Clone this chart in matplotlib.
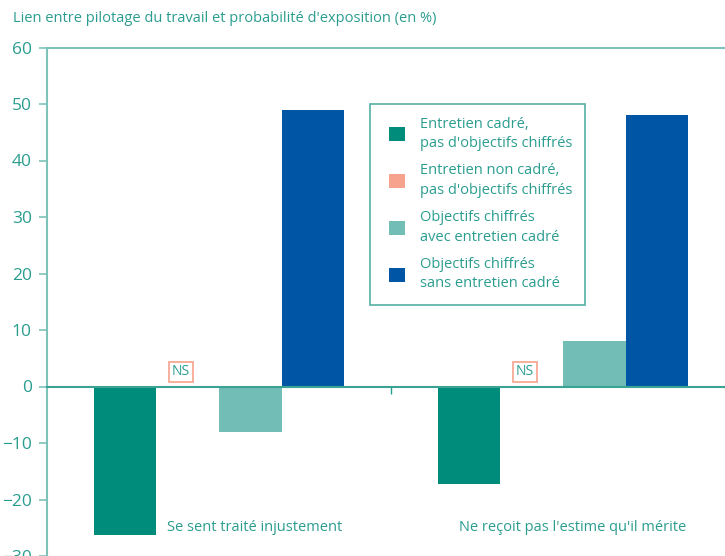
import matplotlib
matplotlib.use("Agg")
import matplotlib.pyplot as plt
import numpy as np
from matplotlib.patches import Patch
from matplotlib.legend_handler import HandlerPatch

# Data
categories = ["Se sent traité injustement", "Ne reçoit pas l'estime qu'il mérite"]
series = [
    "Entretien cadré,\npas d'objectifs chiffrés",
    "Entretien non cadré,\npas d'objectifs chiffrés",
    "Objectifs chiffrés\navec entretien cadré",
    "Objectifs chiffrés\nsans entretien cadré",
]
values = [
    [-26.2, -17.2],   # entretien cadré, pas d'objectifs
    [0.0, 0.0],       # entretien non cadré (NS)
    [-8.0, 8.1],      # objectifs avec entretien cadré
    [49.0, 48.0],     # objectifs sans entretien cadré
]
non_significant = [False, True, False, False]
colors = ["#008C7B", "#F7A28C", "#72BDB5", "#0056A5"]
text_col = "#2A9D8F"
axis_col = "#7CC3BA"
zero_col = "#3AA391"

plt.rcParams['font.family'] = ['Open Sans', 'DejaVu Sans']

fig = plt.figure(figsize=(7.25, 5.56), dpi=100)
W, H = 725, 556
ax = fig.add_axes([47 / W, 0 / H, 688 / W, (556.5 - 48) / H])

x = np.arange(len(categories))
w = 0.182
offsets = [-2, -1, 0, 1]
for i, (vals, c) in enumerate(zip(values, colors)):
    xs = x + offsets[i] * w
    ax.bar(xs, vals, width=w, color=c, align='edge', zorder=2)
    if non_significant[i]:
        for xi in xs:
            ax.text(xi + w / 2 - 0.02, 2.6, "NS", ha='center', va='center',
                    fontsize=10, color=text_col, zorder=3,
                    bbox=dict(boxstyle='square,pad=0.2', fc='white', ec=colors[1], lw=1.2))

for xi, lab in zip(x, categories):
    ax.text(xi + 2 * w - 0.005, -25, lab, ha='right', va='center', fontsize=10.5, color=text_col)

ax.set_xlim(-0.5, 1.5)
ax.set_ylim(-30, 60)
ax.set_yticks(np.arange(-30, 61, 10))
ax.set_xticks([0.5])
ax.set_xticklabels([])
ax.spines['bottom'].set_position(('data', 0))
ax.spines['right'].set_visible(False)
for s in ['left', 'top']:
    ax.spines[s].set_color(axis_col)
    ax.spines[s].set_linewidth(1.5)
ax.spines['bottom'].set_color(zero_col)
ax.spines['bottom'].set_linewidth(1.5)
ax.spines['bottom'].set_zorder(3)
ax.tick_params(axis='y', colors=axis_col, labelcolor=text_col, labelsize=12.5, length=6, width=1.2, pad=5)
ax.tick_params(axis='x', colors=text_col, length=5, width=1, direction='out')

handles = [Patch(facecolor=c, edgecolor='none') for c in colors]
leg = ax.legend(handles, series, loc='upper left', bbox_to_anchor=((370 - 47) / 688, 1 - (104 - 48) / 508.5),
                frameon=True, fancybox=False, fontsize=10.5, labelcolor=text_col,
                handlelength=1.5, handleheight=1.1, handletextpad=1.0, labelspacing=0.85,
                borderpad=0.9, borderaxespad=0,
                handler_map={Patch: HandlerPatch(xpad=0.4)})
for t in leg.get_texts():
    t.set_linespacing(1.4)
leg.get_frame().set_edgecolor(text_col)
leg.get_frame().set_linewidth(1.2)

fig.text(13 / W, 1 - 19 / H, "Lien entre pilotage du travail et probabilité d'exposition (en %)",
         ha='left', va='center', fontsize=10.5, color=text_col)

fig.savefig("out.png", dpi=100)
